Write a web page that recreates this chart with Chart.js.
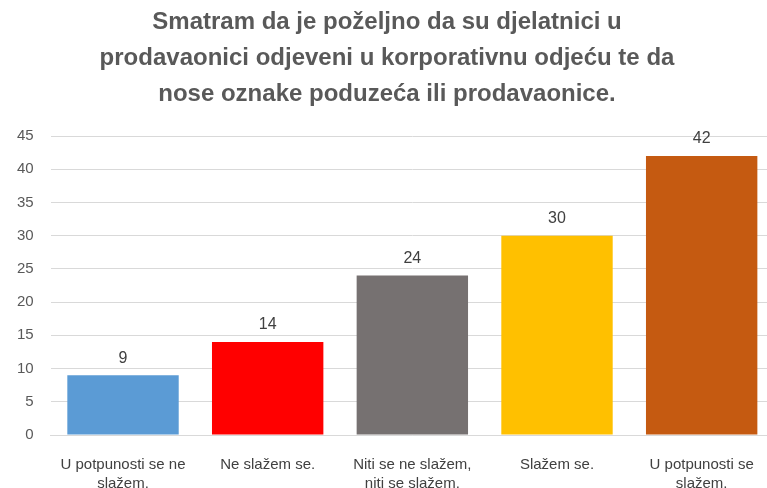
<!DOCTYPE html>
<html>
<head>
<meta charset="utf-8">
<script src="https://cdn.jsdelivr.net/npm/chart.js@4/dist/chart.umd.min.js"></script>
<style>
  html, body { margin: 0; padding: 0; background: #fff; overflow: hidden; }
  #wrap { width: 767px; height: 488px; overflow: hidden; }
</style>
</head>
<body>
<div id="wrap"><canvas id="surveyChart" width="774" height="506"></canvas></div>
<script>
const categories = [
    ["U potpunosti se ne", "slažem."],
    ["Ne slažem se."],
    ["Niti se ne slažem,", "niti se slažem."],
    ["Slažem se."],
    ["U potpunosti se", "slažem."]
];
const answers = [9, 14, 24, 30, 42];
const barColors = ["#5B9BD5", "#FF0000", "#767171", "#FFC000", "#C55A11"];
const titleLines = [
    "Smatram da je poželjno da su djelatnici u",
    "prodavaonici odjeveni u korporativnu odjeću te da",
    "nose oznake poduzeća ili prodavaonice."
];

const fontFamily = "'Liberation Sans Narrow', 'Liberation Sans', Arial, sans-serif";

// draws the value above each bar
const valueLabels = {
    id: "valueLabels",
    afterDatasetsDraw(chart) {
        const ctx = chart.ctx;
        const meta = chart.getDatasetMeta(0);
        ctx.save();
        ctx.font = "16px " + fontFamily;
        ctx.fillStyle = "#404040";
        ctx.textAlign = "center";
        ctx.textBaseline = "bottom";
        meta.data.forEach((bar, i) => {
            ctx.fillText(answers[i], bar.x, bar.y - 9);
        });
        ctx.restore();
    }
};

document.addEventListener("DOMContentLoaded", () => {
    const ctx = document.getElementById("surveyChart").getContext("2d");

    new Chart(ctx, {
        type: "bar",
        data: {
            labels: categories,
            datasets: [{
                data: answers,
                backgroundColor: barColors,
                categoryPercentage: 0.77,
                barPercentage: 1
            }]
        },
        options: {
            responsive: false,
            animation: false,
            layout: { padding: { left: 0, right: 0, top: 4, bottom: 0 } },
            plugins: {
                legend: { display: false },
                tooltip: { enabled: false },
                title: {
                    display: true,
                    text: titleLines,
                    color: "#595959",
                    font: { family: fontFamily, size: 24, weight: "bold", lineHeight: 1.5 },
                    padding: { top: 0, bottom: 24 }
                }
            },
            scales: {
                x: {
                    grid: { display: false },
                    border: { display: true, color: "#d9d9d9" },
                    ticks: {
                        color: "#404040",
                        font: { family: fontFamily, size: 15, lineHeight: 1.3 },
                        maxRotation: 0,
                        padding: 12
                    }
                },
                y: {
                    min: 0,
                    max: 45,
                    grid: { color: "#d9d9d9", drawTicks: false },
                    border: { display: false },
                    ticks: {
                        stepSize: 5,
                        color: "#595959",
                        font: { family: fontFamily, size: 15 },
                        padding: 17
                    }
                }
            }
        },
        plugins: [valueLabels]
    });
});
</script>
</body>
</html>
